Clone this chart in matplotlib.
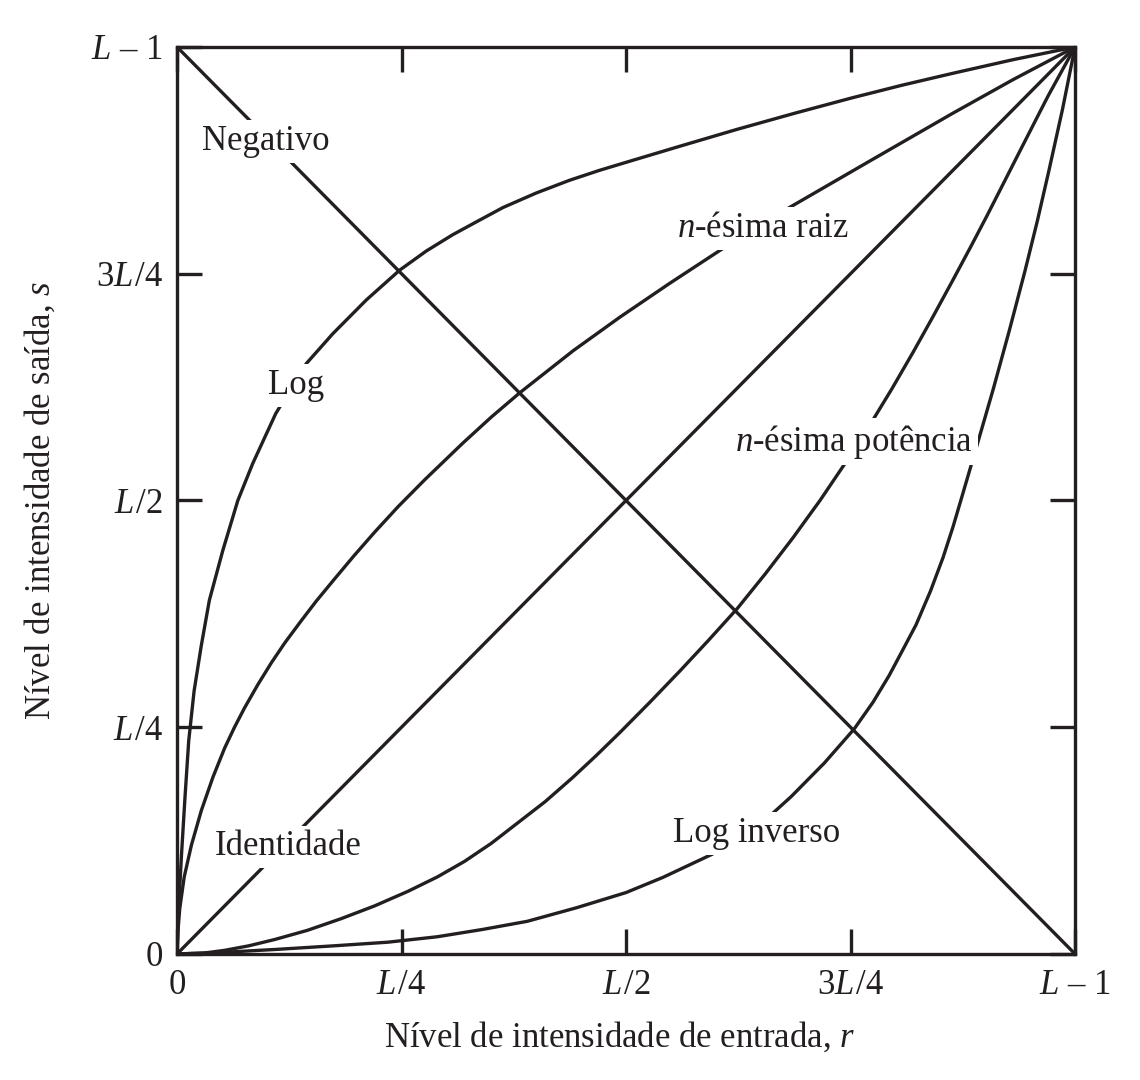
import matplotlib
matplotlib.use("Agg")
import matplotlib.pyplot as plt

# intensity transformation curves (normalised 0..1 = 0..L-1)
TICKS = [0, 0.25, 0.5, 0.75, 1.0]
TICK_LABELS = ["$0$", r"$L\hspace{0.08}/4$", r"$L\hspace{0.08}/2$",
               r"$3L\hspace{0.08}/4$", "$L$ \u2013 1"]

LOG_R = [0, 0.001, 0.002, 0.005, 0.009, 0.013, 0.019, 0.027, 0.036, 0.051, 0.0677,
         0.0844, 0.110, 0.144, 0.1736, 0.2107, 0.248, 0.2775, 0.307, 0.333, 0.363,
         0.400, 0.437, 0.4705, 0.504, 0.558, 0.623, 0.688, 0.752, 0.808, 0.864, 0.931, 1.0]
LOG_S = [0, 0.03, 0.055, 0.11, 0.175, 0.235, 0.29, 0.34, 0.390, 0.445, 0.500,
         0.541, 0.596, 0.651, 0.684, 0.721, 0.754, 0.775, 0.793, 0.807, 0.823,
         0.839, 0.853, 0.864, 0.874, 0.890, 0.909, 0.927, 0.944, 0.958, 0.971, 0.986, 1.0]

ROOT_R = [0, 0.001, 0.003, 0.008, 0.016, 0.027, 0.040, 0.053, 0.064, 0.075, 0.090,
          0.105, 0.120, 0.138, 0.155, 0.175, 0.197, 0.220, 0.246, 0.276, 0.318, 0.350,
          0.382, 0.441, 0.493, 0.548, 0.605, 0.675, 0.771, 0.864, 0.931, 1.0]
ROOT_S = [0, 0.025, 0.05, 0.085, 0.120, 0.158, 0.195, 0.227, 0.250, 0.271, 0.297,
          0.321, 0.343, 0.367, 0.389, 0.413, 0.439, 0.465, 0.493, 0.523, 0.563, 0.592,
          0.619, 0.665, 0.702, 0.739, 0.776, 0.819, 0.874, 0.927, 0.964, 1.0]

IDENT_R = [0, 1.0]
IDENT_S = [0, 1.0]

NEG_R = [0, 1.0]
NEG_S = [1.0, 0]

POW_R = [0, 0.03, 0.053, 0.08, 0.109, 0.145, 0.183, 0.22, 0.257, 0.29, 0.32, 0.35,
         0.38, 0.41, 0.44, 0.466, 0.493, 0.527, 0.56, 0.592, 0.624, 0.655, 0.686,
         0.716, 0.744, 0.772, 0.796, 0.82, 0.842, 0.864, 0.884, 0.902, 0.92, 0.939,
         0.955, 0.97, 0.985, 1.0]
POW_S = [0, 0.001, 0.004, 0.009, 0.016, 0.026, 0.039, 0.053, 0.069, 0.085, 0.102, 0.122,
         0.145, 0.168, 0.194, 0.218, 0.244, 0.278, 0.312, 0.346, 0.381, 0.419, 0.459,
         0.500, 0.541, 0.584, 0.623, 0.664, 0.703, 0.743, 0.780, 0.814, 0.849, 0.886,
         0.917, 0.946, 0.973, 1.0]

INV_R = [0, 0.03, 0.055, 0.11, 0.175, 0.235, 0.29, 0.34, 0.390, 0.445, 0.500, 0.541,
         0.596, 0.651, 0.684, 0.721, 0.754, 0.775, 0.793, 0.807, 0.823, 0.839, 0.853,
         0.864, 0.874, 0.890, 0.909, 0.927, 0.944, 0.958, 0.971, 0.986, 1.0]
INV_S = [0, 0.001, 0.002, 0.005, 0.009, 0.013, 0.019, 0.027, 0.036, 0.051, 0.0677, 0.0844,
         0.110, 0.144, 0.1736, 0.2107, 0.248, 0.2775, 0.307, 0.333, 0.363, 0.400, 0.437,
         0.4705, 0.504, 0.558, 0.623, 0.688, 0.752, 0.808, 0.864, 0.931, 1.0]

CURVE_NAMES = ["Negativo", "Log", "$n$-ésima raiz", "$n$-ésima potência",
               "Identidade", "Log inverso"]

X_LABEL = "Nível de intensidade de entrada, $r$"
Y_LABEL = "Nível de intensidade de saída, $s$"

INK = "#231f20"
FS = 25
LW = 2.4

plt.rcParams["font.family"] = ["Liberation Serif", "DejaVu Serif"]
plt.rcParams["mathtext.fontset"] = "custom"
plt.rcParams["mathtext.rm"] = "Liberation Serif"
plt.rcParams["mathtext.it"] = "Liberation Serif:italic"

fig = plt.figure(figsize=(11.4, 10.8), dpi=100)
ax = fig.add_axes([0.1553, 0.1167, 0.7877, 0.8398])

for r, s in [(NEG_R, NEG_S), (LOG_R, LOG_S), (ROOT_R, ROOT_S), (IDENT_R, IDENT_S),
             (POW_R, POW_S), (INV_R, INV_S)]:
    ax.plot(r, s, color=INK, lw=LW, solid_joinstyle="round", zorder=2)

# label positions (data coords), one per curve name
label_pos = [(0.0985, 0.896), (0.133, 0.627), (0.652, 0.800),
             (0.754, 0.565), (0.124, 0.118), (0.645, 0.133)]
for name, (x, y) in zip(CURVE_NAMES, label_pos):
    ax.text(x, y, name, ha="center", va="center", fontsize=FS, color=INK, zorder=3,
            bbox=dict(boxstyle="square,pad=0.14", fc="white", ec="none"))

ax.set_xlim(0, 1)
ax.set_ylim(0, 1)
ax.set_xticks(TICKS)
ax.set_xticklabels(TICK_LABELS)
ax.set_yticks(TICKS)
ax.set_yticklabels(TICK_LABELS)
ax.tick_params(direction="in", length=18, width=LW, color=INK, labelcolor=INK,
               labelsize=FS, top=True, right=True)
ax.tick_params(axis="x", pad=11)
ax.tick_params(axis="y", pad=10)
for sp in ax.spines.values():
    sp.set_linewidth(LW)
    sp.set_color(INK)

ax.set_xlabel(X_LABEL, fontsize=FS, color=INK, va="center")
ax.xaxis.set_label_coords(0.493, -0.092)
ax.set_ylabel(Y_LABEL, fontsize=FS, color=INK, va="center")
ax.yaxis.set_label_coords(-0.152, 0.5)

fig.savefig("out.png", dpi=100, facecolor="white")
